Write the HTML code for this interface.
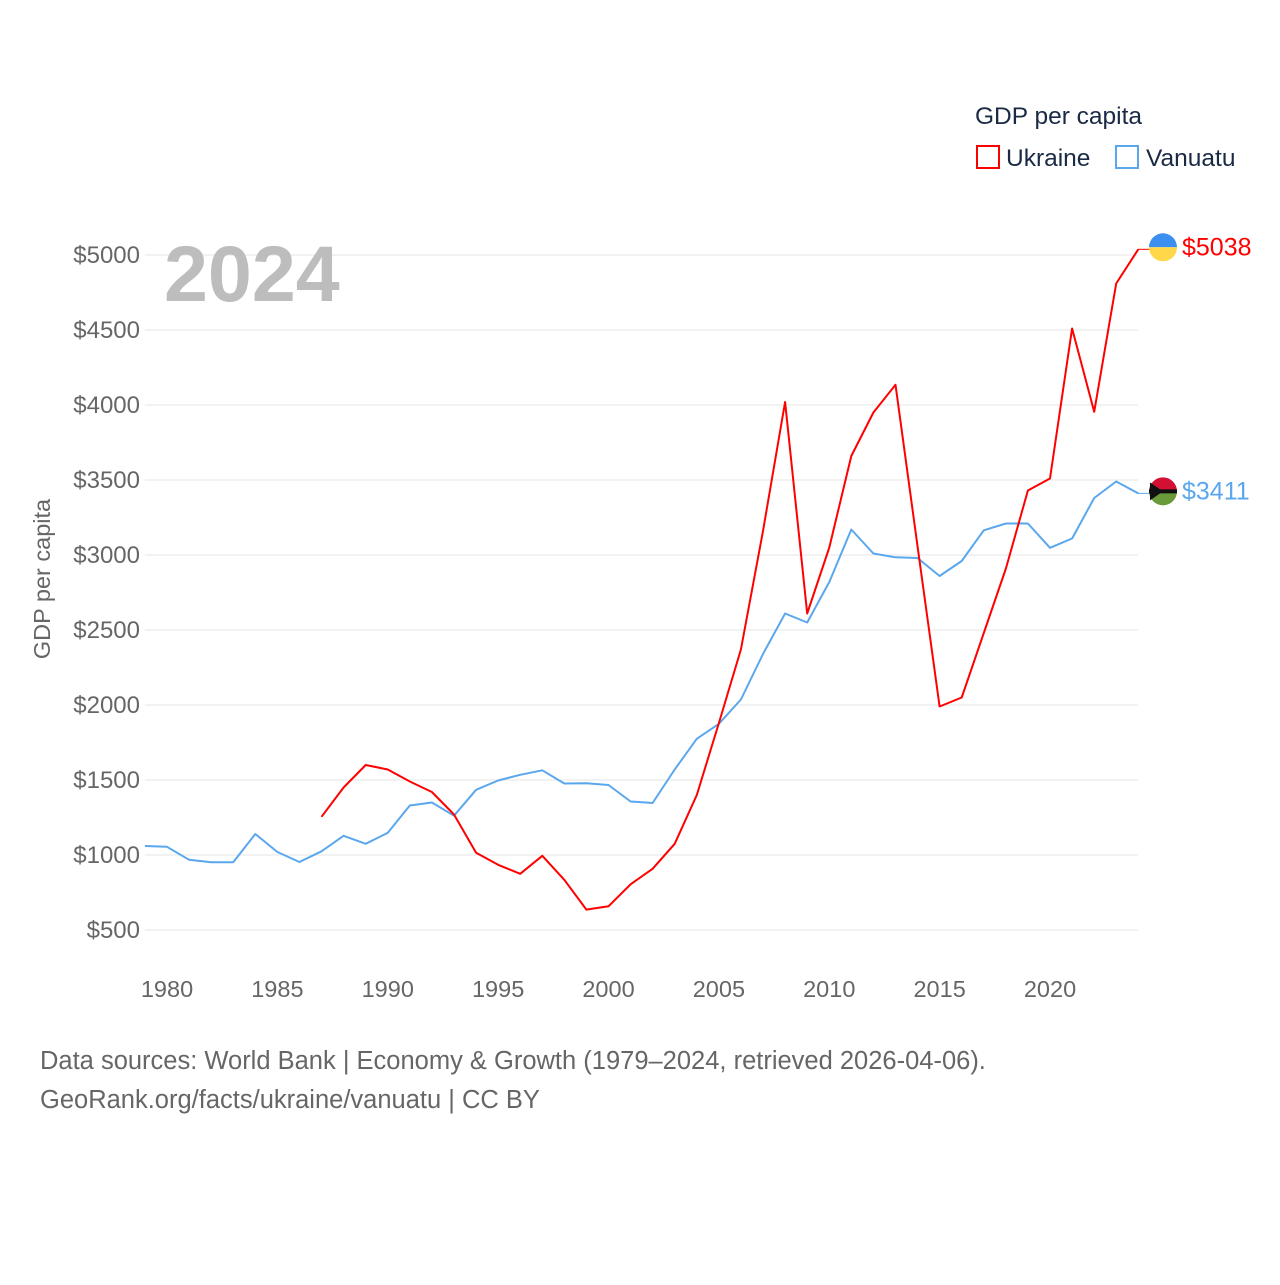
<!DOCTYPE html>
<html><head><meta charset="utf-8">
<style>
body{margin:0;background:#fff;font-family:"Liberation Sans",sans-serif;}
svg text{font-family:"Liberation Sans",sans-serif;}
</style></head>
<body>
<svg id="chart" width="1280" height="1280" xmlns="http://www.w3.org/2000/svg">
<rect width="1280" height="1280" fill="#fff"/>
<g id="grid"></g>
<g id="yticks"></g>
<g id="xticks"></g>
<text x="164" y="301" font-size="79" font-weight="bold" fill="#bdbdbd">2024</text>
<text transform="translate(50,579) rotate(-90)" text-anchor="middle" font-size="23.5" fill="#666">GDP per capita</text>
<g id="series"></g>
<text x="975" y="124" font-size="24.5" fill="#1a2a44">GDP per capita</text>
<g><rect x="977" y="146" width="22" height="22" fill="none" stroke="#ff0000" stroke-width="2"/><text x="1006" y="166" font-size="24.5" fill="#1a2a44">Ukraine</text></g>
<g><rect x="1116" y="146" width="22" height="22" fill="none" stroke="#5aa7ee" stroke-width="2"/><text x="1146" y="166" font-size="24.5" fill="#1a2a44">Vanuatu</text></g>
<text x="40" y="1069" font-size="25.5" fill="#666">Data sources: World Bank | Economy &amp; Growth (1979–2024, retrieved 2026-04-06).</text>
<text x="40" y="1108" font-size="25.5" fill="#666">GeoRank.org/facts/ukraine/vanuatu | CC BY</text>
</svg>
<script>
const years=[];for(let y=1979;y<=2024;y++)years.push(y);
const vanuatu=[1060,1055,968,952,952,1140,1020,953,1025,1128,1075,1148,1330,1350,1262,1435,1497,1535,1565,1477,1478,1467,1357,1347,1570,1775,1875,2037,2340,2610,2550,2820,3170,3010,2985,2980,2860,2960,3165,3210,3210,3048,3110,3380,3490,3411];
const ukraine=[null,null,null,null,null,null,null,null,1255,1450,1600,1570,1490,1420,1270,1015,935,875,995,835,636,658,805,908,1075,1400,1880,2370,3160,4020,2610,3050,3660,3950,4135,3060,1990,2050,2480,2910,3430,3510,4510,3955,4810,5038];
const yTicks=[500,1000,1500,2000,2500,3000,3500,4000,4500,5000];
const xTicks=[1980,1985,1990,1995,2000,2005,2010,2015,2020];
const NS="http://www.w3.org/2000/svg";
const X=y=>167+(y-1980)*22.075;
const Y=v=>930-(v-500)*0.15;
function mk(tag,attrs,parent,txt){const e=document.createElementNS(NS,tag);for(const k in attrs)e.setAttribute(k,attrs[k]);if(txt!==undefined)e.textContent=txt;document.getElementById(parent).appendChild(e);return e;}
yTicks.forEach(v=>{
 const l=mk('line',{x1:145,x2:1138,y1:Y(v),y2:Y(v),stroke:'#e6e6e6','stroke-width':1},'grid');
 
 
 const t=mk('text',{x:140,y:Y(v)+8,'text-anchor':'end','font-size':24,fill:'#666'},'yticks','$'+v);
 
 
});
xTicks.forEach(v=>{
 const t=mk('text',{x:X(v),y:997,'text-anchor':'middle','font-size':23.5,fill:'#666'},'xticks',String(v));
 
 
});
function path(vals,color,name){
 let d='';let pen=false;
 vals.forEach((v,i)=>{if(v==null){pen=false;return;}d+=(pen?'L':'M')+X(years[i]).toFixed(1)+','+Y(v).toFixed(1);pen=true;});
 const p=mk('path',{d:d,fill:'none',stroke:color,'stroke-width':2,'stroke-linejoin':'round'},'series');
 
 
}
path(vanuatu,'#5aa7ee','vanuatu-line');
path(ukraine,'#ff0000','ukraine-line');
function endLabel(v,color,name,flag){
 const y=Y(v);
 mk('line',{x1:1138,x2:1150,y1:y,y2:y,stroke:color,'stroke-width':1},'series');
 const g=mk('g',{},'series');
 
 
 flag(g,1163,y-2);
 const t=mk('text',{x:1182,y:y+6,'font-size':25,fill:color},'series','$'+v);
 
 
}
endLabel(ukraine[ukraine.length-1],'#ff0000','ukraine',(g,cx,cy)=>{
 g.innerHTML=`<path d="M${cx-14},${cy} A14,14 0 0 1 ${cx+14},${cy} Z" fill="#3b8ff0"/><path d="M${cx-14},${cy} A14,14 0 0 0 ${cx+14},${cy} Z" fill="#ffd84a"/>`;
});
endLabel(vanuatu[vanuatu.length-1],'#5aa7ee','vanuatu',(g,cx,cy)=>{
 g.innerHTML=`<path d="M${cx-14},${cy} A14,14 0 0 1 ${cx+14},${cy} Z" fill="#d21034"/><path d="M${cx-14},${cy} A14,14 0 0 0 ${cx+14},${cy} Z" fill="#6a9a3a"/><rect x="${cx-14}" y="${cy-2}" width="28" height="4" fill="#111"/><path d="M${cx-13},${cy-9} L${cx},${cy} L${cx-13},${cy+9} Z" fill="#111"/>`;
});
</script>
</body></html>
